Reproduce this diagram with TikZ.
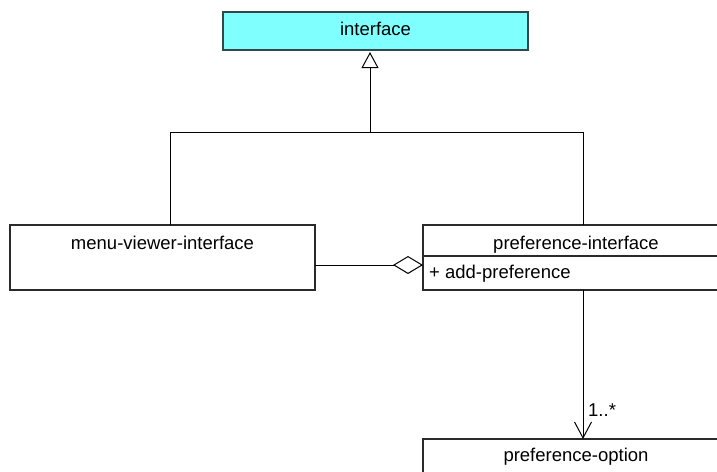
\documentclass[tikz,border=0pt]{standalone}
\usepackage{fontspec}
\setmainfont{Liberation Sans}
\usetikzlibrary{arrows.meta}
\definecolor{ifacecyan}{HTML}{80FFFF}
\definecolor{ifaceedge}{HTML}{354848}
\definecolor{boxedge}{HTML}{2A2A2A}
\tikzset{
  umlbox/.style={draw=boxedge, line width=1.4pt, fill=white, rectangle,
    inner sep=0pt, outer sep=0pt, anchor=north west},
  lbl/.style={inner sep=0pt, font=\fontsize{18.5}{21}\selectfont, anchor=base},
  member/.style={lbl, anchor=base west},
  conn/.style={draw=black, line width=1pt},
  realizes/.style={conn, -{Triangle[open, length=16pt, width=17pt, line width=1pt]}, shorten >=2pt},
  aggregates/.style={conn, {Diamond[open, length=30pt, width=18pt, line width=1pt]}-},
  navigates/.style={conn, -{Straight Barb[length=16pt, width=17pt, line width=1pt]}},
}
\begin{document}
\begin{tikzpicture}[x=1pt, y=-1pt]
\useasboundingbox (0,0) rectangle (717,471);
\clip (0,0) rectangle (717,471);

% classes
\node[umlbox, fill=ifacecyan, draw=ifaceedge, minimum width=305pt, minimum height=38pt] (iface) at (223,12) {};
\node[lbl] (ifacename) at (375.5,35.5) {interface};

\node[umlbox, minimum width=305pt, minimum height=65pt] (menu) at (10,225) {};
\node[lbl] (menuname) at (162.5,249) {menu-viewer-interface};

\node[umlbox, minimum width=306pt, minimum height=65pt] (prefif) at (423,225) {};
\draw[draw=boxedge, line width=1.4pt] (423,256) -- (729,256);
\node[lbl] (prefifname) at (576,249) {preference-interface};
\node[member] (prefifop) at (429,278) {+ add-preference};

\node[umlbox, minimum width=306pt, minimum height=65pt] (prefopt) at (423,439) {};
\node[lbl] (prefoptname) at (576,461) {preference-option};

% generalization tree
\coordinate (busL) at (170,132);
\coordinate (busR) at (583,132);
\coordinate (busM) at (370,132);
\draw[conn] (menu.north -| busL) -- (busL) -- (busR) -- (prefif.north -| busR);
\draw[realizes] (busM) -- (iface.south -| busM);

% aggregation
\coordinate (aggY) at (0,265);
\draw[aggregates] (prefif.west |- aggY) -- (menu.east |- aggY);

% navigable association
\draw[navigates] (prefif.south -| busR) -- (prefopt.north -| busR);
\node[member] (mult) at (588,416) {1..*};
\end{tikzpicture}
\end{document}
